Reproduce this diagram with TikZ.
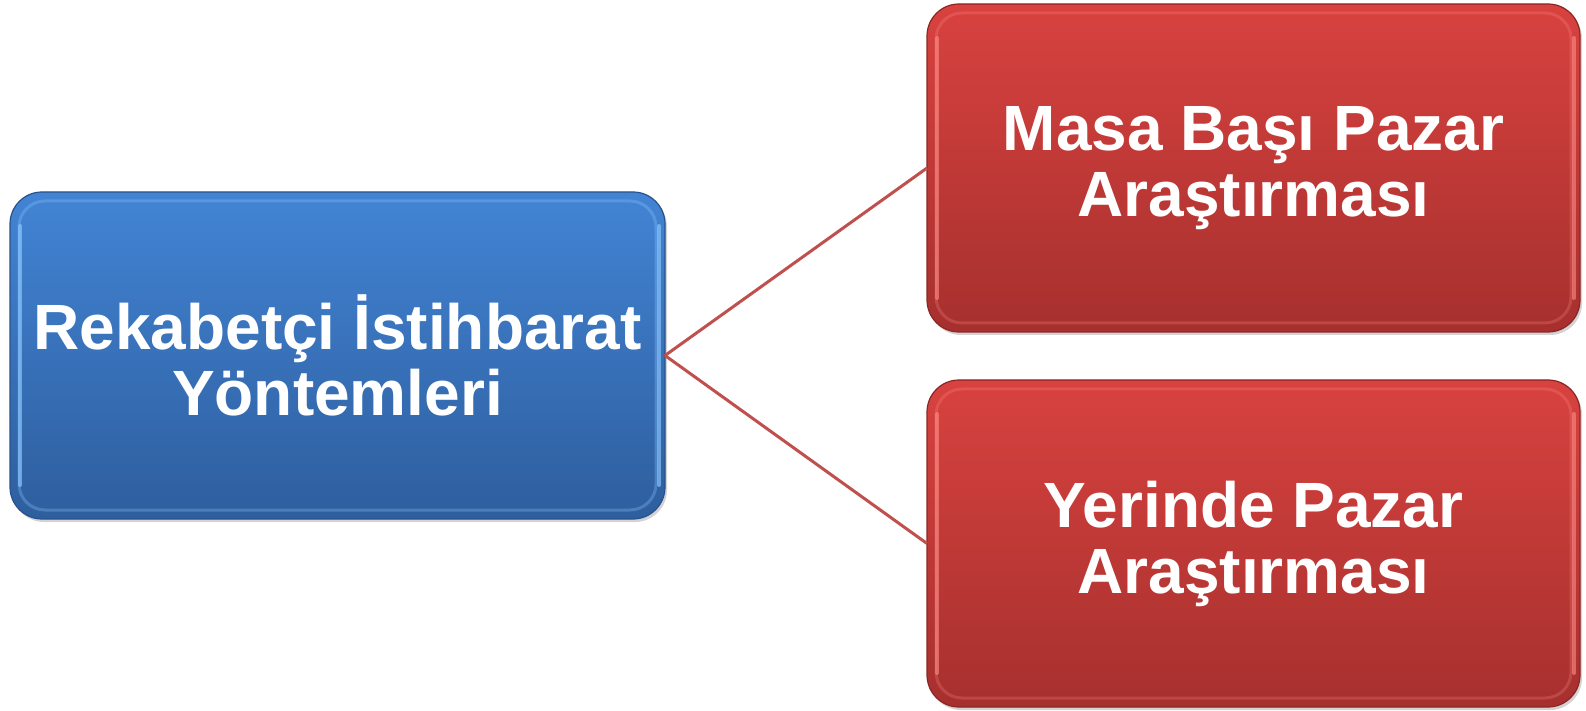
\documentclass[tikz,border=0pt]{standalone}
\usepackage{fontspec}
\setmainfont{Liberation Sans}
\usetikzlibrary{shadows}
\definecolor{bluetop}{RGB}{66,132,212}
\definecolor{bluebot}{RGB}{46,94,158}
\definecolor{blueedge}{RGB}{40,82,140}
\definecolor{bluehl}{RGB}{140,200,255}
\definecolor{redtop}{RGB}{216,66,63}
\definecolor{redbot}{RGB}{166,48,46}
\definecolor{rededge}{RGB}{140,38,36}
\definecolor{redhl}{RGB}{255,140,135}
\definecolor{linkred}{RGB}{192,80,77}
\tikzset{
  boxbase/.style={rectangle, rounded corners=32pt, inner sep=0pt, outer sep=0pt,
    drop shadow={opacity=0.35, shadow xshift=2pt, shadow yshift=-3pt}},
  bluebox/.style={boxbase, top color=bluetop, bottom color=bluebot, draw=blueedge, line width=1.2pt},
  redbox/.style={boxbase, top color=redtop, bottom color=redbot, draw=rededge, line width=1.2pt},
  bluehi/.style={draw=bluehl, line width=3pt, opacity=0.3, rounded corners=26pt},
  redhi/.style={draw=redhl, line width=3pt, opacity=0.25, rounded corners=26pt},
  bluestripe/.style={draw=bluehl, line width=4pt, opacity=0.65, line cap=round},
  redstripe/.style={draw=redhl, line width=4pt, opacity=0.6, line cap=round},
  label/.style={align=center, text=white, font=\bfseries\fontsize{64}{66}\selectfont},
  link/.style={draw=linkred, line width=3pt}
}
\begin{document}
\begin{tikzpicture}[x=1pt,y=1pt]
\useasboundingbox (0,0) rectangle (1586,710);
\node[bluebox, minimum width=655pt, minimum height=327pt] (src) at (337.5,354.5) {};
\node[redbox, minimum width=653pt, minimum height=328pt] (top) at (1253.5,542) {};
\node[redbox, minimum width=653pt, minimum height=327pt] (bot) at (1253.5,166.5) {};
\foreach \b/\h/\s in {src/bluehi/bluestripe, top/redhi/redstripe, bot/redhi/redstripe}{
  \draw[\h] ([shift={(9,9)}]\b.south west) rectangle ([shift={(-9,-9)}]\b.north east);
  \draw[\s] ([shift={(10,34)}]\b.south west) -- ([shift={(10,-34)}]\b.north west);
  \draw[\s] ([shift={(-6,34)}]\b.south east) -- ([shift={(-6,-34)}]\b.north east);
}
\node[label] (srct) at (src.center) {Rekabetçi İstihbarat\\Yöntemleri};
\node[label] (topt) at (top.center) {Masa Başı Pazar\\Araştırması};
\node[label] (bott) at (bot.center) {Yerinde Pazar\\Araştırması};
\draw[link] (src.east) -- (top.west);
\draw[link] (src.east) -- (bot.west);
\end{tikzpicture}
\end{document}
